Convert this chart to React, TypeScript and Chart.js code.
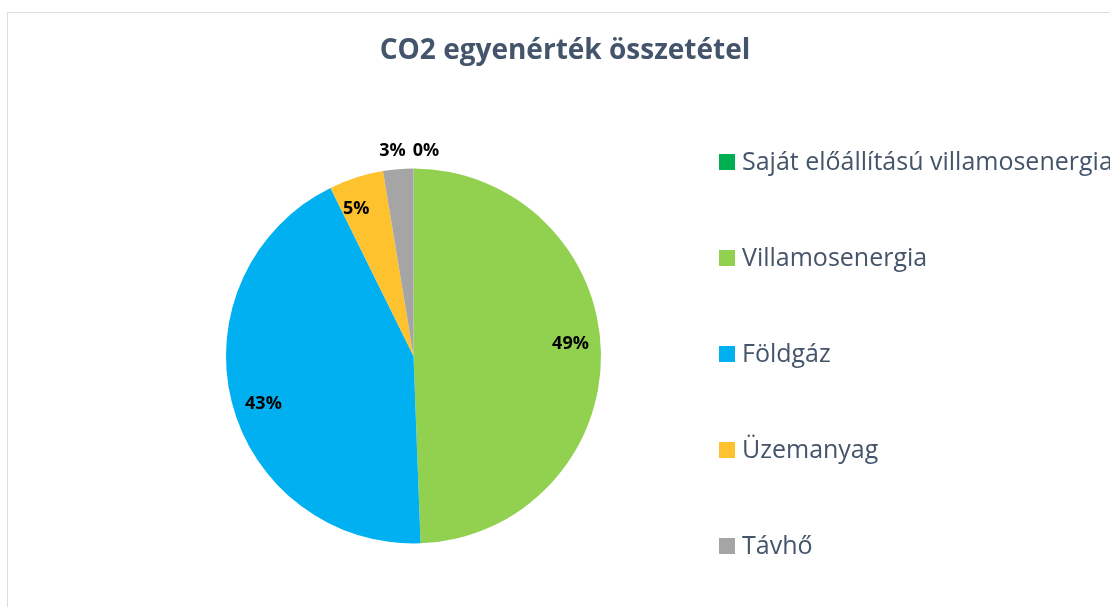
import React, { useEffect, useRef } from "react";
import { Chart, registerables } from "chart.js";

Chart.register(...registerables);

const TITLE = "CO2 egyenérték összetétel";
const CATEGORIES = [
  "Saját előállítású villamosenergia",
  "Villamosenergia",
  "Földgáz",
  "Üzemanyag",
  "Távhő",
];
const VALUES = [0, 49.4, 43.3, 4.7, 2.6];
const COLORS = ["#00b050", "#92d050", "#00b0f0", "#ffc22f", "#a5a5a5"];

const TEXT_COLOR = "#44546a";
const FONT = "'Open Sans', 'Noto Sans', sans-serif";

const centeredTitle = {
  id: "centeredTitle",
  afterDraw(chart: any, _args: any, opts: any) {
    const ctx = chart.ctx;
    ctx.save();
    ctx.font = `bold 28px ${FONT}`;
    ctx.fillStyle = TEXT_COLOR;
    ctx.textAlign = "center";
    ctx.textBaseline = "alphabetic";
    ctx.fillText(opts.text, chart.width / 2, opts.baseline);
    ctx.restore();
  },
};

const pctLabels = {
  id: "pctLabels",
  afterDatasetsDraw(chart: any) {
    const ctx = chart.ctx;
    const meta = chart.getDatasetMeta(0);
    const data = chart.data.datasets[0].data as number[];
    const total = data.reduce((a, b) => a + b, 0);
    ctx.save();
    ctx.font = `bold 18px ${FONT}`;
    ctx.fillStyle = "#000";
    ctx.textAlign = "center";
    ctx.textBaseline = "middle";
    const outside: any[] = [];
    const shift = (-3.5 * Math.PI) / 180;
    meta.data.forEach((arc: any, i: number) => {
      const p = arc.getProps(["x", "y", "startAngle", "endAngle", "outerRadius"], true);
      const mid = (p.startAngle + p.endAngle) / 2;
      const pct = Math.round((data[i] / total) * 100);
      const text = `${pct}%`;
      const frac = data[i] / total;
      if (frac < 0.04) {
        const r = p.outerRadius + 18;
        outside.push({ text, x: p.x + Math.cos(mid) * r, y: p.y + Math.sin(mid) * r, w: ctx.measureText(text).width });
      } else {
        const r = p.outerRadius * 0.84;
        ctx.fillText(text, p.x + Math.cos(mid + shift) * r, p.y + Math.sin(mid + shift) * r);
      }
    });
    // resolve horizontal overlaps among outside labels
    outside.sort((a, b) => a.x - b.x);
    for (let k = 1; k < outside.length; k++) {
      const a = outside[k - 1];
      const b = outside[k];
      const need = (a.w + b.w) / 2 + 7;
      const gap = b.x - a.x;
      if (Math.abs(a.y - b.y) < 20 && gap < need) {
        const push = need - gap;
        a.x -= push * 0.25;
        b.x += push * 0.75;
      }
    }
    outside.forEach((o) => ctx.fillText(o.text, o.x, o.y));
    ctx.restore();
  },
};

const sideLegend = {
  id: "sideLegend",
  afterDraw(chart: any, _args: any, opts: any) {
    const ctx = chart.ctx;
    const area = chart.chartArea;
    const ds = chart.data.datasets[0];
    const x0 = area.right + opts.dx;
    const cy0 = (area.top + area.bottom) / 2 + opts.dy;
    ctx.save();
    ctx.font = `25px ${FONT}`;
    ctx.textBaseline = "middle";
    ctx.textAlign = "left";
    (chart.data.labels as string[]).forEach((lab, i) => {
      const cy = cy0 + i * opts.spacing;
      ctx.fillStyle = (ds.backgroundColor as string[])[i];
      ctx.fillRect(x0, cy - opts.box / 2, opts.box, opts.box);
      ctx.fillStyle = TEXT_COLOR;
      ctx.fillText(lab, x0 + opts.box + opts.gap, cy + 1);
    });
    ctx.restore();
  },
};

export default function App() {
  const ref = useRef<HTMLCanvasElement>(null);
  useEffect(() => {
    if (!ref.current) return;
    const chart = new Chart(ref.current, {
      type: "pie",
      data: {
        labels: CATEGORIES,
        datasets: [
          {
            data: VALUES,
            backgroundColor: COLORS,
            borderWidth: 0,
          },
        ],
      },
      options: {
        responsive: false,
        animation: false,
        layout: { padding: { left: 218, right: 521, top: 72, bottom: 4 } },
        plugins: {
          legend: { display: false },
          tooltip: { enabled: false },
          title: { display: false },
          centeredTitle: { text: TITLE, baseline: 45.5 },
          sideLegend: { dx: 118, dy: -194, spacing: 96, box: 16, gap: 7 },
        } as any,
      },
      plugins: [pctLabels, sideLegend, centeredTitle],
    });
    return () => chart.destroy();
  }, []);

  return (
    <div style={{ position: "fixed", left: 0, top: 0, width: "100vw", height: "100vh", overflow: "hidden", background: "#fff" }}>
      <div
        style={{
          position: "absolute",
          left: 7,
          top: 12,
          width: 1116,
          height: 620,
          boxSizing: "border-box",
          border: "1px solid #d9dee6",
          background: "#fff",
        }}
      >
        <canvas ref={ref} width={1114} height={618} style={{ display: "block", width: 1114, height: 618 }} />
      </div>
    </div>
  );
}
